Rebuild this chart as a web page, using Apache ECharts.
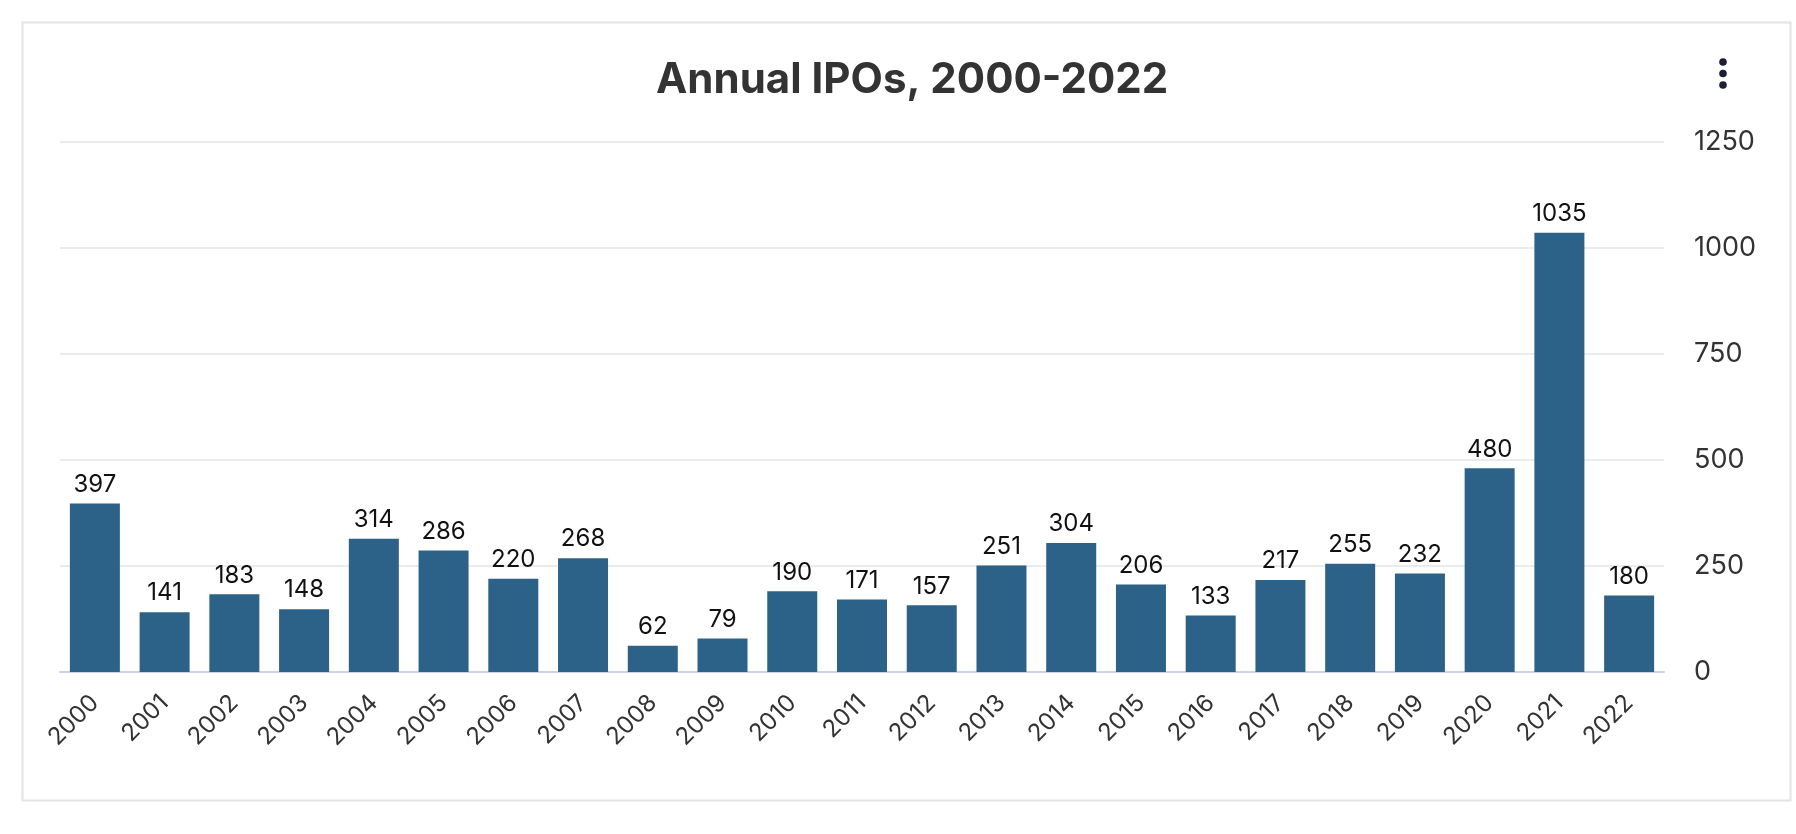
<!DOCTYPE html>
<html>
<head>
<meta charset="utf-8">
<script src="https://cdn.jsdelivr.net/npm/echarts@6/dist/echarts.min.js"></script>
<style>
  html, body { margin: 0; padding: 0; background: #fff; }
  #chart { width: 1796px; height: 834px; }
</style>
</head>
<body>
<div id="chart"></div>
<script>
const titleText = "Annual IPOs, 2000-2022";
const years = ["2000","2001","2002","2003","2004","2005","2006","2007","2008","2009","2010","2011","2012","2013","2014","2015","2016","2017","2018","2019","2020","2021","2022"];
const ipoCounts = [397,141,183,148,314,286,220,268,62,79,190,171,157,251,304,206,133,217,255,232,480,1035,180];
const yTicks = { min: 0, max: 1250, interval: 250 };

const chart = echarts.init(document.getElementById('chart'), null, { renderer: 'canvas' });
const font = 'Inter, "Noto Sans", "DejaVu Sans", sans-serif';

chart.setOption({
  animation: false,
  backgroundColor: '#ffffff',
  title: {
    text: titleText,
    left: 651,
    top: 54,
    textStyle: { fontFamily: font, fontSize: 42, fontWeight: 'bold', color: '#333333' }
  },
  grid: { left: 60, right: 132, top: 141.5, bottom: 162, containLabel: false },
  xAxis: {
    type: 'category',
    data: years,
    axisLine: { show: true, lineStyle: { color: '#c9d4e6', width: 2 } },
    axisTick: { show: false },
    axisLabel: {
      rotate: 45,
      margin: 27,
      interval: 0,
      fontFamily: font,
      fontSize: 24,
      color: '#333333'
    }
  },
  yAxis: {
    type: 'value',
    position: 'right',
    min: yTicks.min,
    max: yTicks.max,
    interval: yTicks.interval,
    axisLine: { show: false },
    axisTick: { show: false },
    splitLine: { lineStyle: { color: '#e4e4e4', width: 1.5 } },
    axisLabel: {
      margin: 30,
      fontFamily: font,
      fontSize: 27,
      color: '#333333',
      padding: [9, 0, 0, 0],
      formatter: function (v) { return String(v); }
    }
  },
  series: [{
    type: 'bar',
    data: ipoCounts,
    barWidth: '71.7%',
    itemStyle: { color: '#2c6288' },
    label: {
      show: true,
      position: 'top',
      distance: 7,
      fontFamily: font,
      fontSize: 24,
      color: '#111111'
    }
  }],
  graphic: [
    {
      type: 'rect',
      shape: { x: 22.5, y: 22.5, width: 1768, height: 778 },
      style: { fill: null, stroke: '#e3e3e9', lineWidth: 2 },
      silent: true,
      z: -1
    },
    { type: 'circle', shape: { cx: 1723, cy: 62, r: 3.8 }, style: { fill: '#1a1f33' } },
    { type: 'circle', shape: { cx: 1723, cy: 73.5, r: 3.8 }, style: { fill: '#1a1f33' } },
    { type: 'circle', shape: { cx: 1723, cy: 85, r: 3.8 }, style: { fill: '#1a1f33' } }
  ]
});
</script>
</body>
</html>
